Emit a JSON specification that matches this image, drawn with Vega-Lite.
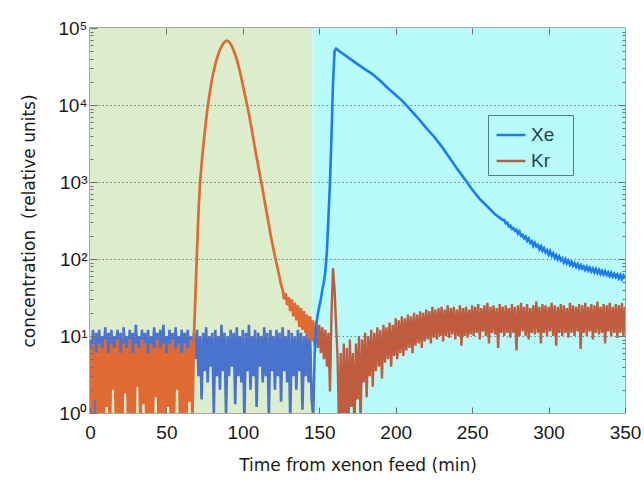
{
"$schema": "https://vega.github.io/schema/vega-lite/v6.json",
"width": 535, "height": 385,
"autosize": {"type": "none"},
"padding": {"left": 90, "top": 28, "right": 19, "bottom": 72},
"background": "white",
"config": {
  "view": {"stroke": "#8c8c8c", "strokeWidth": 1.5},
  "axis": {"domain": false, "grid": false, "zindex": 1, "tickColor": "#6e6e6e", "tickWidth": 1,
    "labelFont": "Liberation Sans", "labelFontSize": 19, "labelColor": "#1a1a1a", "labelOverlap": false, "labelFlush": false,
    "titleFont": "DejaVu Sans", "titleFontSize": 17, "titleFontWeight": "normal", "titleColor": "#1a1a1a"}
},
"data": {"values": [
{"t":0,"Xe":9,"Kr":7},{"t":1,"Xe":5,"Kr":0.6},{"t":2,"Xe":12,"Kr":8},{"t":3,"Xe":1,"Kr":1.5},{"t":4,"Xe":11,"Kr":6},
{"t":5,"Xe":6,"Kr":0.5},{"t":6,"Xe":12,"Kr":8},{"t":7,"Xe":5,"Kr":1},{"t":8,"Xe":10,"Kr":7},{"t":9,"Xe":6,"Kr":0.6},
{"t":10,"Xe":13,"Kr":9},{"t":11,"Xe":4,"Kr":1.2},{"t":12,"Xe":11,"Kr":6},{"t":13,"Xe":6,"Kr":0.5},{"t":14,"Xe":12,"Kr":8},
{"t":15,"Xe":5,"Kr":2},{"t":16,"Xe":10,"Kr":7},{"t":17,"Xe":7,"Kr":0.7},{"t":18,"Xe":12,"Kr":9},{"t":19,"Xe":5,"Kr":1},
{"t":20,"Xe":11,"Kr":6},{"t":21,"Xe":1.2,"Kr":0.5},{"t":22,"Xe":13,"Kr":8},{"t":23,"Xe":6,"Kr":1.8},{"t":24,"Xe":10,"Kr":7},
{"t":25,"Xe":5,"Kr":0.6},{"t":26,"Xe":12,"Kr":9},{"t":27,"Xe":6,"Kr":1},{"t":28,"Xe":11,"Kr":6},{"t":29,"Xe":4,"Kr":0.5},
{"t":30,"Xe":14,"Kr":8},{"t":31,"Xe":6,"Kr":2.2},{"t":32,"Xe":10,"Kr":7},{"t":33,"Xe":5,"Kr":0.6},{"t":34,"Xe":12,"Kr":9},
{"t":35,"Xe":6,"Kr":1.3},{"t":36,"Xe":11,"Kr":8},{"t":37,"Xe":5,"Kr":0.5},{"t":38,"Xe":12,"Kr":6},{"t":39,"Xe":4,"Kr":1},
{"t":40,"Xe":10,"Kr":8},{"t":41,"Xe":6,"Kr":0.6},{"t":42,"Xe":13,"Kr":7},{"t":43,"Xe":5,"Kr":1.6},{"t":44,"Xe":11,"Kr":9},
{"t":45,"Xe":6,"Kr":0.5},{"t":46,"Xe":12,"Kr":7},{"t":47,"Xe":5,"Kr":1},{"t":48,"Xe":14,"Kr":8},{"t":49,"Xe":6,"Kr":0.7},
{"t":50,"Xe":10,"Kr":6},{"t":51,"Xe":5,"Kr":1.2},{"t":52,"Xe":12,"Kr":8},{"t":53,"Xe":6,"Kr":0.5},{"t":54,"Xe":11,"Kr":9},
{"t":55,"Xe":4,"Kr":1},{"t":56,"Xe":13,"Kr":7},{"t":57,"Xe":6,"Kr":2},{"t":58,"Xe":10,"Kr":8},{"t":59,"Xe":5,"Kr":0.6},
{"t":60,"Xe":12,"Kr":6},{"t":61,"Xe":6,"Kr":1},{"t":62,"Xe":11,"Kr":8},{"t":63,"Xe":5,"Kr":0.5},{"t":64,"Xe":12,"Kr":7},
{"t":65,"Xe":4,"Kr":1.4},{"t":66,"Xe":10,"Kr":9},{"t":67,"Xe":6,"Kr":0.8},{"t":68,"Xe":11,"Kr":10},{"t":69,"Xe":5,"Kr":35},
{"t":70,"Xe":12,"Kr":130},{"t":71,"Xe":3,"Kr":420},{"t":72,"Xe":10,"Kr":1000},{"t":73,"Xe":1.5,"Kr":1700},{"t":74,"Xe":11,"Kr":2800},
{"t":75,"Xe":3.5,"Kr":4300},{"t":76,"Xe":13,"Kr":6500},{"t":77,"Xe":2.5,"Kr":9500},{"t":78,"Xe":10,"Kr":13000},{"t":79,"Xe":4,"Kr":17500},
{"t":80,"Xe":11,"Kr":22500},{"t":81,"Xe":1,"Kr":28000},{"t":82,"Xe":12,"Kr":34000},{"t":83,"Xe":3,"Kr":40000},{"t":84,"Xe":10,"Kr":46000},
{"t":85,"Xe":2,"Kr":52000},{"t":86,"Xe":14,"Kr":57000},{"t":87,"Xe":3.5,"Kr":62000},{"t":88,"Xe":11,"Kr":66000},{"t":89,"Xe":0.9,"Kr":68000},
{"t":90,"Xe":10,"Kr":68000},{"t":91,"Xe":3,"Kr":66000},{"t":92,"Xe":12,"Kr":62000},{"t":93,"Xe":4,"Kr":57000},{"t":94,"Xe":11,"Kr":51000},
{"t":95,"Xe":1.3,"Kr":45000},{"t":96,"Xe":13,"Kr":39000},{"t":97,"Xe":3,"Kr":33000},{"t":98,"Xe":10,"Kr":27500},{"t":99,"Xe":2.5,"Kr":22500},
{"t":100,"Xe":12,"Kr":18000},{"t":101,"Xe":0.8,"Kr":14500},{"t":102,"Xe":11,"Kr":11800},{"t":103,"Xe":3.5,"Kr":9500},{"t":104,"Xe":14,"Kr":7600},
{"t":105,"Xe":2,"Kr":5900},{"t":106,"Xe":10,"Kr":4600},{"t":107,"Xe":3,"Kr":3500},{"t":108,"Xe":12,"Kr":2700},{"t":109,"Xe":1.2,"Kr":2100},
{"t":110,"Xe":11,"Kr":1650},{"t":111,"Xe":4,"Kr":1280},{"t":112,"Xe":10,"Kr":1000},{"t":113,"Xe":2.5,"Kr":780},{"t":114,"Xe":13,"Kr":600},
{"t":115,"Xe":3,"Kr":460},{"t":116,"Xe":11,"Kr":360},{"t":117,"Xe":0.9,"Kr":280},{"t":118,"Xe":12,"Kr":215},{"t":119,"Xe":3.5,"Kr":170},
{"t":120,"Xe":10,"Kr":135},{"t":121,"Xe":2,"Kr":108},{"t":122,"Xe":12,"Kr":88},{"t":123,"Xe":3,"Kr":72},{"t":124,"Xe":11,"Kr":58},
{"t":125,"Xe":1.4,"Kr":46},{"t":126,"Xe":13,"Kr":40},{"t":127,"Xe":3.5,"Kr":30},{"t":128,"Xe":10,"Kr":36},{"t":129,"Xe":2.5,"Kr":25},
{"t":130,"Xe":12,"Kr":32},{"t":131,"Xe":0.8,"Kr":21},{"t":132,"Xe":11,"Kr":30},{"t":133,"Xe":3,"Kr":18},{"t":134,"Xe":10,"Kr":27},
{"t":135,"Xe":2,"Kr":16},{"t":136,"Xe":12,"Kr":25},{"t":137,"Xe":3.5,"Kr":13},{"t":138,"Xe":11,"Kr":23},{"t":139,"Xe":1.1,"Kr":12},
{"t":140,"Xe":10,"Kr":21},{"t":141,"Xe":3,"Kr":11},{"t":142,"Xe":12,"Kr":19},{"t":143,"Xe":2.5,"Kr":9},{"t":144,"Xe":10,"Kr":18},
{"t":145,"Xe":1.5,"Kr":8.5},{"t":146,"Xe":0.9,"Kr":16},{"t":147,"Xe":6,"Kr":7.5},{"t":148,"Xe":14,"Kr":15},{"t":149,"Xe":19,"Kr":7},
{"t":150,"Xe":24,"Kr":14},{"t":151,"Xe":30,"Kr":6},{"t":152,"Xe":40,"Kr":13},{"t":153,"Xe":50,"Kr":5},{"t":154,"Xe":70,"Kr":12},
{"t":155,"Xe":130,"Kr":4},{"t":156,"Xe":350,"Kr":11},{"t":157,"Xe":1000,"Kr":1.9},{"t":158,"Xe":4000,"Kr":20},{"t":159,"Xe":20000,"Kr":76},
{"t":160,"Xe":50000,"Kr":40},{"t":161,"Xe":54000,"Kr":14},{"t":162,"Xe":52000,"Kr":5},{"t":163,"Kr":0.5},{"t":164,"Kr":6},
{"t":165,"Xe":47000,"Kr":0.4},{"t":166,"Kr":8},{"t":167,"Kr":0.6},{"t":168,"Kr":7},{"t":169,"Kr":0.5},
{"t":170,"Xe":40000,"Kr":9},{"t":171,"Kr":1.2},{"t":172,"Kr":6},{"t":173,"Kr":0.5},{"t":174,"Kr":8},
{"t":175,"Xe":34000,"Kr":1.5},{"t":176,"Kr":10},{"t":177,"Kr":0.7},{"t":178,"Kr":9},{"t":179,"Kr":2.5},
{"t":180,"Xe":29000,"Kr":11},{"t":181,"Kr":1.6},{"t":182,"Kr":10},{"t":183,"Kr":3},{"t":184,"Kr":12},
{"t":185,"Xe":25000,"Kr":2.2},{"t":186,"Kr":11},{"t":187,"Kr":3.5},{"t":188,"Kr":13},{"t":189,"Kr":4},
{"t":190,"Xe":20500,"Kr":12},{"t":191,"Kr":2.8},{"t":192,"Kr":14},{"t":193,"Kr":4.5},{"t":194,"Kr":13},
{"t":195,"Xe":16500,"Kr":5},{"t":196,"Kr":15},{"t":197,"Kr":4},{"t":198,"Kr":14},{"t":199,"Kr":5.5},
{"t":200,"Xe":13500,"Kr":17},{"t":201,"Kr":5},{"t":202,"Kr":16},{"t":203,"Kr":6},{"t":204,"Kr":18},
{"t":205,"Xe":11000,"Kr":5.5},{"t":206,"Kr":17},{"t":207,"Kr":6.5},{"t":208,"Kr":19},{"t":209,"Kr":7},
{"t":210,"Xe":8500,"Kr":18},{"t":211,"Kr":6},{"t":212,"Kr":20},{"t":213,"Kr":7.5},{"t":214,"Kr":19},
{"t":215,"Xe":6600,"Kr":8},{"t":216,"Kr":21},{"t":217,"Kr":7},{"t":218,"Kr":20},{"t":219,"Kr":8.5},
{"t":220,"Xe":5000,"Kr":22},{"t":221,"Kr":9},{"t":222,"Kr":21},{"t":223,"Kr":8},{"t":224,"Kr":24},
{"t":225,"Xe":3900,"Kr":9.5},{"t":226,"Kr":22},{"t":227,"Kr":9},{"t":228,"Kr":23},{"t":229,"Kr":10},
{"t":230,"Xe":2900,"Kr":24},{"t":231,"Kr":8.5},{"t":232,"Kr":22},{"t":233,"Kr":10},{"t":234,"Kr":25},
{"t":235,"Xe":2100,"Kr":9.5},{"t":236,"Kr":23},{"t":237,"Kr":10.5},{"t":238,"Kr":24},{"t":239,"Kr":9},
{"t":240,"Xe":1500,"Kr":22},{"t":241,"Kr":10},{"t":242,"Kr":25},{"t":243,"Kr":7.5},{"t":244,"Kr":23},
{"t":245,"Xe":1100,"Kr":10},{"t":246,"Kr":24},{"t":247,"Kr":9.5},{"t":248,"Kr":22},{"t":249,"Kr":10.5},
{"t":250,"Xe":800,"Kr":25},{"t":251,"Kr":10},{"t":252,"Kr":24},{"t":253,"Kr":11},{"t":254,"Kr":26},
{"t":255,"Xe":600,"Kr":9},{"t":256,"Kr":23},{"t":257,"Kr":11.5},{"t":258,"Kr":25},{"t":259,"Kr":10},
{"t":260,"Xe":480,"Kr":27},{"t":261,"Kr":8},{"t":262,"Kr":24},{"t":263,"Kr":11},{"t":264,"Kr":25},
{"t":265,"Xe":380,"Kr":10.5},{"t":266,"Kr":23},{"t":267,"Kr":7},{"t":268,"Kr":26},{"t":269,"Kr":11},
{"t":270,"Xe":320,"Kr":24},{"t":271,"Xe":322,"Kr":10},{"t":272,"Xe":290,"Kr":25},{"t":273,"Xe":296,"Kr":11},{"t":274,"Xe":265,"Kr":23},
{"t":275,"Xe":270,"Kr":9.5},{"t":276,"Xe":246,"Kr":26},{"t":277,"Xe":252,"Kr":11},{"t":278,"Xe":232,"Kr":24},{"t":279,"Xe":240,"Kr":6.5},
{"t":280,"Xe":214,"Kr":25},{"t":281,"Xe":228,"Kr":10},{"t":282,"Xe":200,"Kr":27},{"t":283,"Xe":206,"Kr":11.5},{"t":284,"Xe":186,"Kr":24},
{"t":285,"Xe":196,"Kr":10},{"t":286,"Xe":172,"Kr":26},{"t":287,"Xe":184,"Kr":9},{"t":288,"Xe":162,"Kr":23},{"t":289,"Xe":170,"Kr":11},
{"t":290,"Xe":148,"Kr":25},{"t":291,"Xe":162,"Kr":10.5},{"t":292,"Xe":146,"Kr":28},{"t":293,"Xe":152,"Kr":11},{"t":294,"Xe":134,"Kr":24},
{"t":295,"Xe":146,"Kr":8},{"t":296,"Xe":128,"Kr":26},{"t":297,"Xe":138,"Kr":11},{"t":298,"Xe":122,"Kr":25},{"t":299,"Xe":130,"Kr":10},
{"t":300,"Xe":114,"Kr":24},{"t":301,"Xe":126,"Kr":11.5},{"t":302,"Xe":110,"Kr":27},{"t":303,"Xe":118,"Kr":10},{"t":304,"Xe":104,"Kr":25},
{"t":305,"Xe":112,"Kr":7.5},{"t":306,"Xe":99,"Kr":24},{"t":307,"Xe":108,"Kr":11},{"t":308,"Xe":96,"Kr":26},{"t":309,"Xe":102,"Kr":10},
{"t":310,"Xe":90,"Kr":25},{"t":311,"Xe":99,"Kr":11},{"t":312,"Xe":88,"Kr":23},{"t":313,"Xe":95,"Kr":9.5},{"t":314,"Xe":84,"Kr":27},
{"t":315,"Xe":92,"Kr":11},{"t":316,"Xe":82,"Kr":25},{"t":317,"Xe":88,"Kr":10},{"t":318,"Xe":79,"Kr":24},{"t":319,"Xe":86,"Kr":11.5},
{"t":320,"Xe":76,"Kr":26},{"t":321,"Xe":83,"Kr":6.8},{"t":322,"Xe":75,"Kr":25},{"t":323,"Xe":80,"Kr":11},{"t":324,"Xe":72,"Kr":27},
{"t":325,"Xe":79,"Kr":10},{"t":326,"Xe":71,"Kr":24},{"t":327,"Xe":77,"Kr":11.5},{"t":328,"Xe":69,"Kr":26},{"t":329,"Xe":75,"Kr":9},
{"t":330,"Xe":67,"Kr":25},{"t":331,"Xe":74,"Kr":11},{"t":332,"Xe":66,"Kr":28},{"t":333,"Xe":72,"Kr":10.5},{"t":334,"Xe":64,"Kr":24},
{"t":335,"Xe":70,"Kr":11},{"t":336,"Xe":63,"Kr":26},{"t":337,"Xe":69,"Kr":8},{"t":338,"Xe":62,"Kr":25},{"t":339,"Xe":67,"Kr":11.5},
{"t":340,"Xe":60,"Kr":27},{"t":341,"Xe":66,"Kr":10},{"t":342,"Xe":59,"Kr":24},{"t":343,"Xe":64,"Kr":11},{"t":344,"Xe":58,"Kr":26},
{"t":345,"Xe":63,"Kr":9.5},{"t":346,"Xe":56,"Kr":25},{"t":347,"Xe":62,"Kr":11},{"t":348,"Xe":55,"Kr":27},{"t":349,"Xe":61,"Kr":10},
{"t":350,"Xe":56,"Kr":24}
]},
"layer": [
  {
    "data": {"values": [{"a": 0, "b": 145.5, "zone": "feed"}, {"a": 145.5, "b": 350, "zone": "after"}]},
    "mark": {"type": "rect"},
    "encoding": {
      "x": {"field": "a", "type": "quantitative", "scale": {"domain": [0, 350], "nice": false}, "axis": null},
      "x2": {"field": "b"},
      "fill": {"field": "zone", "type": "nominal", "scale": {"domain": ["feed", "after"], "range": ["#dcedcb", "#b9fbfb"]}, "legend": null}
    }
  },
  {
    "transform": [{"filter": "datum.t <= 147"}],
    "mark": {"type": "line", "clip": true, "color": "#4a73ce", "strokeWidth": 2.6},
    "encoding": {
      "x": {"field": "t", "type": "quantitative", "scale": {"domain": [0, 350], "nice": false},
        "axis": {"orient": "bottom", "zindex": 1, "values": [0, 50, 100, 150, 200, 250, 300, 350], "tickSize": -6, "labelPadding": 16,
          "title": "Time from xenon feed (min)", "titleX": 267.5, "titleY": 52, "titleBaseline": "middle"}},
      "y": {"field": "Xe", "type": "quantitative", "scale": {"type": "log", "domain": [1, 100000], "nice": false},
        "axis": {"orient": "left", "zindex": 1,
          "values": [1,2,3,4,5,6,7,8,9,10,20,30,40,50,60,70,80,90,100,200,300,400,500,600,700,800,900,1000,2000,3000,4000,5000,6000,7000,8000,9000,10000,20000,30000,40000,50000,60000,70000,80000,90000,100000],
          "labelExpr": "datum.value == 1 ? '10⁰' : datum.value == 10 ? '10¹' : datum.value == 100 ? '10²' : datum.value == 1000 ? '10³' : datum.value == 10000 ? '10⁴' : datum.value == 100000 ? '10⁵' : ''",
          "tickSize": {"condition": {"test": "datum.value == 1 || datum.value == 10 || datum.value == 100 || datum.value == 1000 || datum.value == 10000 || datum.value == 100000", "value": -7}, "value": -3},
          "labelPadding": 10,
          "grid": true, "gridColor": "#7a8484", "gridDash": [1.5, 2.5], "gridWidth": 1,
          "gridOpacity": {"condition": {"test": "datum.value == 10 || datum.value == 100 || datum.value == 1000 || datum.value == 10000", "value": 1}, "value": 0},
          "title": "concentration\u00a0 (relative units)", "titleX": -61, "titleY": 192.5, "titleAngle": -90, "titleBaseline": "middle"}}
    }
  },
  {
    "transform": [{"filter": "datum.t <= 147"}],
    "mark": {"type": "line", "clip": true, "color": "#e06a32", "strokeWidth": 2.7},
    "encoding": {
      "x": {"field": "t", "type": "quantitative", "scale": {"domain": [0, 350], "nice": false}, "axis": null},
      "y": {"field": "Kr", "type": "quantitative", "scale": {"type": "log", "domain": [1, 100000], "nice": false}, "axis": null}
    }
  },
  {
    "transform": [{"filter": "datum.t >= 147"}],
    "mark": {"type": "line", "clip": true, "strokeWidth": 2.4},
    "encoding": {
      "x": {"field": "t", "type": "quantitative", "scale": {"domain": [0, 350], "nice": false}, "axis": null},
      "y": {"field": "Kr", "type": "quantitative", "scale": {"type": "log", "domain": [1, 100000], "nice": false}, "axis": null},
      "color": {"datum": "Kr", "type": "nominal", "scale": {"domain": ["Xe", "Kr"], "range": ["#1a7cfa", "#c05c3e"]},
        "legend": {"orient": "none", "legendX": 398, "legendY": 87, "title": null, "symbolType": "stroke", "symbolSize": 841, "symbolStrokeWidth": 2.5,
          "symbolOffset": 3, "labelExpr": "datum.label + '\u2800'",
          "labelFont": "Liberation Sans", "labelFontSize": 19, "labelColor": "#1e4646", "strokeColor": "#4f8080", "padding": 4, "rowPadding": 0, "labelOffset": 4, "zindex": 2}}
    }
  },
  {
    "transform": [{"filter": "datum.t >= 147 && isValid(datum.Xe)"}],
    "mark": {"type": "line", "clip": true, "strokeWidth": 2.6},
    "encoding": {
      "x": {"field": "t", "type": "quantitative", "scale": {"domain": [0, 350], "nice": false},
        "axis": {"orient": "top", "zindex": 1, "values": [50, 100, 150, 200, 250, 300], "tickSize": -6, "labels": false, "title": null}},
      "y": {"field": "Xe", "type": "quantitative", "scale": {"type": "log", "domain": [1, 100000], "nice": false},
        "axis": {"orient": "right", "zindex": 1, "labels": false, "title": null,
          "values": [2,3,4,5,6,7,8,9,10,20,30,40,50,60,70,80,90,100,200,300,400,500,600,700,800,900,1000,2000,3000,4000,5000,6000,7000,8000,9000,10000,20000,30000,40000,50000,60000,70000,80000,90000],
          "tickSize": {"condition": {"test": "datum.value == 10 || datum.value == 100 || datum.value == 1000 || datum.value == 10000", "value": -7}, "value": -3}}},
      "color": {"datum": "Xe", "type": "nominal", "scale": {"domain": ["Xe", "Kr"], "range": ["#1a7cfa", "#c05c3e"]}}
    }
  }
],
"resolve": {"axis": {"x": "independent", "y": "independent"}}
}
